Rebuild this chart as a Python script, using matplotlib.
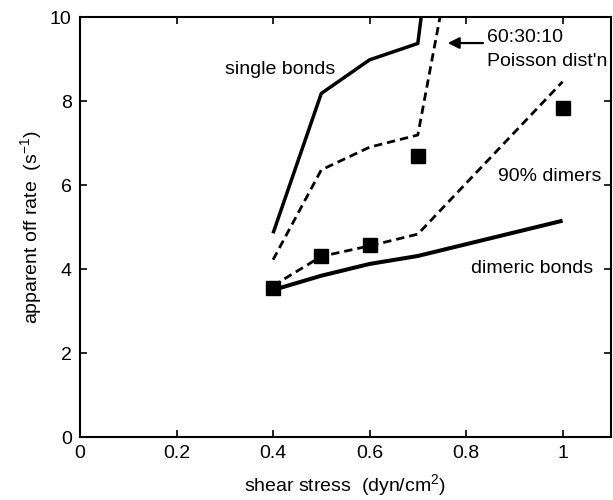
import matplotlib
matplotlib.use("Agg")
import matplotlib.pyplot as plt

plt.rcParams['font.family'] = ['Liberation Sans', 'DejaVu Sans']
plt.rcParams['mathtext.fontset'] = 'custom'
plt.rcParams['mathtext.rm'] = 'Liberation Sans'
plt.rcParams['mathtext.it'] = 'Liberation Sans'

# shear stress (dyn/cm^2)
stress = [0.4, 0.5, 0.6, 0.7, 1.0]
dimeric = [3.5, 3.84, 4.12, 4.31, 5.15]
dimers90 = [3.6, 4.3, 4.55, 4.83, 8.46]
measured = [3.54, 4.32, 4.57, 6.68, 7.83]

# curves that leave the top of the axes
stress_single = [0.4, 0.5, 0.6, 0.7, 0.8]
single = [4.85, 8.18, 8.98, 9.37, 18.4]
stress_poisson = [0.4, 0.5, 0.6, 0.7, 0.8]
poisson = [4.22, 6.36, 6.9, 7.19, 13.3]

fig = plt.figure(figsize=(6.13, 5.0), dpi=100)
ax = fig.add_axes([0.1305, 0.126, 0.866, 0.84])

ax.plot(stress, dimeric, color='black', lw=2.9, solid_capstyle='butt')
ax.plot(stress_single, single, color='black', lw=2.5, solid_capstyle='butt')
ax.plot(stress, dimers90, color='black', lw=2.0, dashes=(3, 1.8))
ax.plot(stress_poisson, poisson, color='black', lw=2.0, dashes=(3, 1.8))
ax.plot(stress, measured, 's', color='black', ms=10)

fs = 14
ax.text(0.30, 8.74, 'single bonds', fontsize=fs, va='center', ha='left')
ax.text(0.843, 9.52, '60:30:10', fontsize=fs, va='center', ha='left')
ax.text(0.843, 8.93, "Poisson dist'n", fontsize=fs, va='center', ha='left')
ax.text(0.866, 6.2, '90% dimers', fontsize=fs, va='center', ha='left')
ax.text(0.81, 4.02, 'dimeric bonds', fontsize=fs, va='center', ha='left')
ax.annotate('', xy=(0.762, 9.38), xytext=(0.835, 9.38),
            arrowprops=dict(arrowstyle='-|>', color='black', lw=1.6,
                            mutation_scale=17, shrinkA=0, shrinkB=0))

ax.set_xlim(0, 1.1)
ax.set_ylim(0, 10)
ax.set_xticks([0, 0.2, 0.4, 0.6, 0.8, 1.0])
ax.set_xticklabels(['0', '0.2', '0.4', '0.6', '0.8', '1'])
ax.set_yticks([0, 2, 4, 6, 8, 10])
ax.tick_params(direction='in', top=True, right=True, labelsize=fs,
               length=5, width=1.2, pad=6)
for s in ax.spines.values():
    s.set_linewidth(1.5)

ax.set_xlabel(r'shear stress  (dyn/cm$^{2}$)', fontsize=fs, labelpad=7)
ax.set_ylabel(r'apparent off rate  (s$^{-1}$)', fontsize=fs, labelpad=4)

fig.savefig('out.png', dpi=100)
